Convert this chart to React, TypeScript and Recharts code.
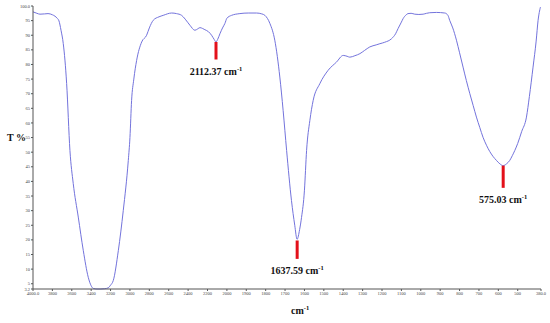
import { ComposedChart, Line, Scatter, XAxis, YAxis, ReferenceLine } from 'recharts'

// FTIR spectrum, wavenumber (cm-1) vs transmittance (%)
const wavenumbers = [
  4000, 3960, 3928, 3880, 3845, 3800, 3773, 3750, 3732, 3711, 3688, 3653, 3619, 3585, 3533, 3481, 3430, 3400,
  3378, 3340, 3300, 3260, 3224, 3200, 3172, 3120, 3069, 3017, 3000, 2983, 2960, 2931, 2879, 2828, 2800, 2760,
  2700, 2657, 2570, 2520, 2467, 2430, 2381, 2330, 2300, 2278, 2250, 2227, 2190, 2158, 2130, 2113, 2095, 2072,
  2045, 2021, 2000, 1976, 1933, 1890, 1847, 1820, 1804, 1778, 1753, 1727, 1710, 1692, 1667, 1650, 1638, 1625,
  1615, 1600, 1589, 1572, 1555, 1521, 1478, 1435, 1400, 1380, 1366, 1340, 1314, 1290, 1263, 1230, 1211, 1186,
  1151, 1130, 1117, 1100, 1091, 1075, 1066, 1050, 1031, 1010, 988, 970, 954, 920, 876, 860, 851, 835, 816, 800,
  782, 765, 747, 730, 713, 696, 679, 660, 644, 628, 610, 592, 575, 558, 541, 528, 515, 500, 480, 455, 440, 421,
  405, 395, 383,
]
const transmittance = [
  98.0, 97.5, 97.2, 97.3, 97.4, 97.0, 96.5, 95.8, 94.9, 91.7, 87.2, 73.5, 50.6, 39.3, 27.8, 16.3, 7.2, 4.3,
  3.4, 3.2, 3.2, 3.3, 3.6, 4.5, 6.1, 16.3, 30.0, 47.2, 55.0, 67.7, 75.0, 81.4, 87.7, 90.0, 92.5, 95.1,
  96.3, 96.8, 97.6, 97.4, 96.8, 95.5, 93.4, 91.7, 92.2, 92.6, 92.3, 91.9, 91.2, 90.0, 88.5, 87.7, 88.6, 90.5,
  92.5, 94.0, 95.8, 96.8, 97.4, 97.6, 97.6, 97.3, 96.8, 94.0, 88.3, 75.7, 64.3, 50.6, 33.5, 25.0, 20.2, 23.5,
  27.7, 37.0, 50.6, 60.9, 67.7, 73.4, 78.0, 80.8, 83.1, 82.8, 82.5, 83.0, 83.7, 84.8, 86.0, 86.7, 87.1, 87.6,
  88.8, 90.5, 92.3, 94.5, 95.7, 97.0, 97.4, 97.5, 97.2, 97.1, 97.2, 97.5, 97.7, 97.8, 97.6, 96.8, 95.1, 92.5, 88.3, 84.0,
  79.1, 74.5, 70.0, 66.0, 62.0, 58.5, 55.1, 52.2, 50.2, 48.6, 47.2, 46.0, 45.4, 46.0, 47.2, 48.8, 50.6, 53.0, 57.0, 62.0, 69.0, 79.1,
  88.0, 95.1, 99.6,
]

const xTickLabels = [
  4000, 3800, 3600, 3400, 3200, 3000, 2800, 2600, 2400, 2200, 2000, 1900, 1800, 1700, 1600, 1500, 1400, 1300,
  1200, 1100, 1000, 900, 800, 700, 600, 500, 380,
]
const yTicks = [100, 95, 90, 85, 80, 75, 70, 65, 60, 55, 50, 45, 40, 35, 30, 25, 20, 15, 10, 5, 3.2]

const peakWavenumbers = [2112.37, 1637.59, 575.03]
const peakTop = [87.7, 19.8, 45.4]
const peakBottom = [81.7, 13.5, 37.8]

// the instrument axis is compressed 2x above 2000 cm-1
const toPos = (w: number) => (w >= 2000 ? (4000 - w) / 200 : 10 + (2000 - w) / 100)
const fromPos = (p: number) => Math.round(p <= 10 ? 4000 - p * 200 : 2000 - (p - 10) * 100)

const data = wavenumbers.map((w, i) => ({ p: toPos(w), t: transmittance[i] }))
const peaks = peakWavenumbers.map((w, i) => ({ p: toPos(w), t: peakBottom[i], label: w.toFixed(2) }))

const serif = '"Liberation Serif", "Times New Roman", serif'

function PeakLabel(props: any) {
  const { cx, cy, payload } = props
  return (
    <text x={cx} y={cy + 15} textAnchor="middle" fontFamily={serif} fontSize={10} fontWeight="bold" fill="#111">
      {payload.label} cm<tspan dy={-4} fontSize={6.5}>-1</tspan>
    </text>
  )
}

export default function App() {
  const first = xTickLabels[0]
  const last = xTickLabels[xTickLabels.length - 1]
  return (
    <div style={{ position: 'relative', width: 550, height: 323, background: '#fff' }}>
      <style>{'body{margin:0}'}</style>
      <ComposedChart width={550} height={323} data={data} margin={{ top: 6, right: 9, bottom: 0, left: 0 }}>
        <XAxis
          dataKey="p"
          type="number"
          domain={[0, toPos(last)]}
          ticks={xTickLabels.map(toPos)}
          interval={0}
          tickFormatter={(v: number) => {
            const w = fromPos(v)
            return w === first || w === last ? w.toFixed(1) : String(w)
          }}
          height={34}
          stroke="#555"
          tickSize={2}
          tickMargin={1}
          tick={{ fontSize: 4.5, fontFamily: serif, fill: '#444' }}
        />
        <YAxis
          type="number"
          domain={[3.2, 100]}
          ticks={yTicks}
          interval={0}
          tickFormatter={(v: number) => (v === 100 ? '100.0' : String(v))}
          width={33}
          stroke="#555"
          tickSize={2}
          tickMargin={1}
          tick={{ fontSize: 4.5, fontFamily: serif, fill: '#444' }}
        />
        <Line
          dataKey="t"
          type="monotone"
          stroke="#7373dc"
          strokeWidth={1}
          dot={false}
          isAnimationActive={false}
        />
        {peakWavenumbers.map((w, i) => (
          <ReferenceLine
            key={w}
            segment={[
              { x: toPos(w), y: peakTop[i] },
              { x: toPos(w), y: peakBottom[i] },
            ]}
            stroke="#e3101a"
            strokeWidth={3}
          />
        ))}
        <Scatter data={peaks} dataKey="t" shape={PeakLabel} isAnimationActive={false} />
      </ComposedChart>
      <div
        style={{
          position: 'absolute', left: 7, top: 132, fontFamily: serif, fontWeight: 'bold', fontSize: 10, color: '#111',
        }}
      >
        T %
      </div>
      <div
        style={{
          position: 'absolute', left: 291, top: 304, fontFamily: serif, fontWeight: 'bold', fontSize: 10, color: '#111',
        }}
      >
        cm<sup style={{ fontSize: 6.5 }}>-1</sup>
      </div>
    </div>
  )
}
